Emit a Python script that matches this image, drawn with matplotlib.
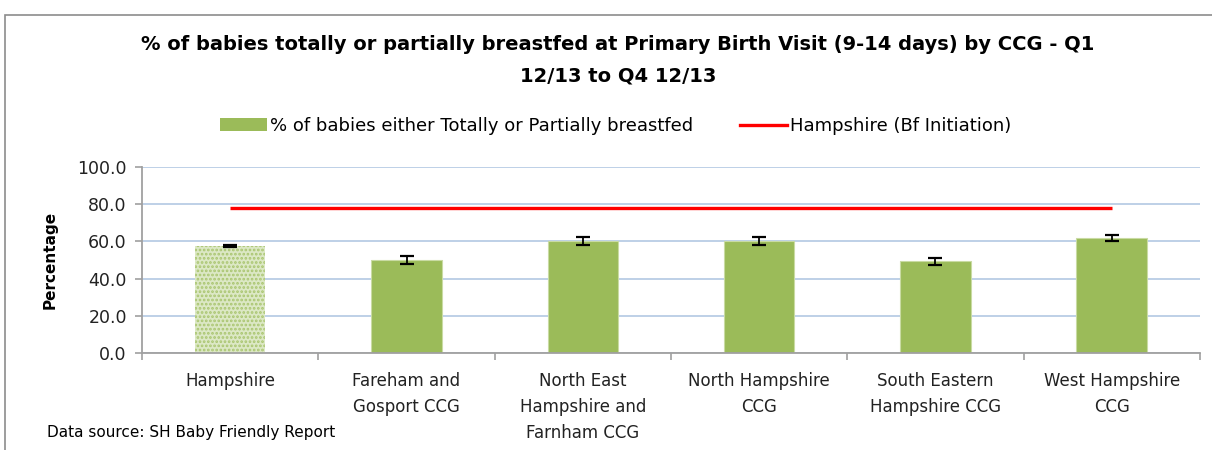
import matplotlib
matplotlib.use('Agg')
from matplotlib import pyplot as plt
from matplotlib.patches import Patch
from matplotlib.lines import Line2D
from matplotlib.patches import Rectangle
import numpy as np

plt.rcParams['font.family'] = ['DejaVu Sans']
plt.rcParams['hatch.linewidth'] = 1.3

categories = ['Hampshire', 'Fareham and\nGosport CCG', 'North East\nHampshire and\nFarnham CCG',
              'North Hampshire\nCCG', 'South Eastern\nHampshire CCG', 'West Hampshire\nCCG']
pct_bf = [57.6, 49.9, 60.0, 60.2, 49.3, 61.8]
err_bf = [0.4, 2.1, 2.1, 2.1, 1.8, 1.5]
hampshire_init = [78.0, 78.0, 78.0, 78.0, 78.0, 78.0]

GREEN = '#9BBB59'
RED = '#FF0000'
GRID = '#B9CDE5'
AXIS = '#A0A0A0'

fig = plt.figure(figsize=(12.12, 4.5), dpi=100)
# chart border
fig.add_artist(Rectangle((0.004, -0.05), 1.2, 1.016, transform=fig.transFigure,
                         fill=False, edgecolor='#8C8C8C', linewidth=1.2))

ax = fig.add_axes([0.1172, 0.2156, 0.8728, 0.4134])
x = np.arange(len(categories))

bars = ax.bar(x, pct_bf, width=0.4, color=GREEN, edgecolor='#C9DBA3', linewidth=0.8, zorder=2)
# first bar is shown with a dotted fill
bars[0].set_facecolor('#DCE8C5')
bars[0].set_hatch('....')
bars[0].set_edgecolor('#A9C56F')
bars[0].set_linewidth(0)
ax.errorbar(x, pct_bf, yerr=err_bf, fmt='none', ecolor='black', elinewidth=1.3,
            capsize=5, capthick=1.6, zorder=3)
ax.plot(x, hampshire_init, color=RED, linewidth=2.4, zorder=4, solid_capstyle='butt')

ax.set_xlim(-0.5, len(categories) - 0.5)
ax.set_ylim(0, 100)
ax.set_yticks(np.arange(0, 101, 20))
ax.set_yticklabels(['{:.1f}'.format(v) for v in np.arange(0, 101, 20)], fontsize=12.5, color='#222222')
ax.yaxis.grid(True, color=GRID, linewidth=1.3, zorder=0)
ax.set_axisbelow(True)

ax.set_xticks(np.arange(len(categories) + 1) - 0.5)
ax.set_xticklabels([])
ax.set_xticks(x, minor=True)
ax.set_xticklabels(categories, minor=True, fontsize=12, color='#222222', linespacing=1.55, va='top')
ax.tick_params(axis='x', which='minor', length=0, pad=14)
ax.tick_params(axis='x', which='major', length=5, color=AXIS, width=1.2)
ax.tick_params(axis='y', length=5, color=AXIS, width=1.2, pad=6)

for s in ['top', 'right']:
    ax.spines[s].set_visible(False)
for s in ['left', 'bottom']:
    ax.spines[s].set_color(AXIS)
    ax.spines[s].set_linewidth(1.3)

ax.set_ylabel('Percentage', fontsize=11, fontweight='bold', labelpad=14)

fig.text(0.51, 0.90, '% of babies totally or partially breastfed at Primary Birth Visit (9-14 days) by CCG - Q1',
         ha='center', va='center', fontsize=14, fontweight='bold')
fig.text(0.51, 0.831, '12/13 to Q4 12/13', ha='center', va='center', fontsize=14, fontweight='bold')

handles = [Patch(facecolor=GREEN, edgecolor='none'), Line2D([0], [0], color=RED, linewidth=2.4)]
fig.legend(handles, ['% of babies either Totally or Partially breastfed', 'Hampshire (Bf Initiation)'],
           loc='center', bbox_to_anchor=(0.508, 0.72), ncol=2, frameon=False, fontsize=13,
           handlelength=2.6, handletextpad=0.15, columnspacing=2.6)

fig.text(0.039, 0.04, 'Data source: SH Baby Friendly Report', ha='left', va='center', fontsize=11)

fig.savefig('out.png', dpi=100)
